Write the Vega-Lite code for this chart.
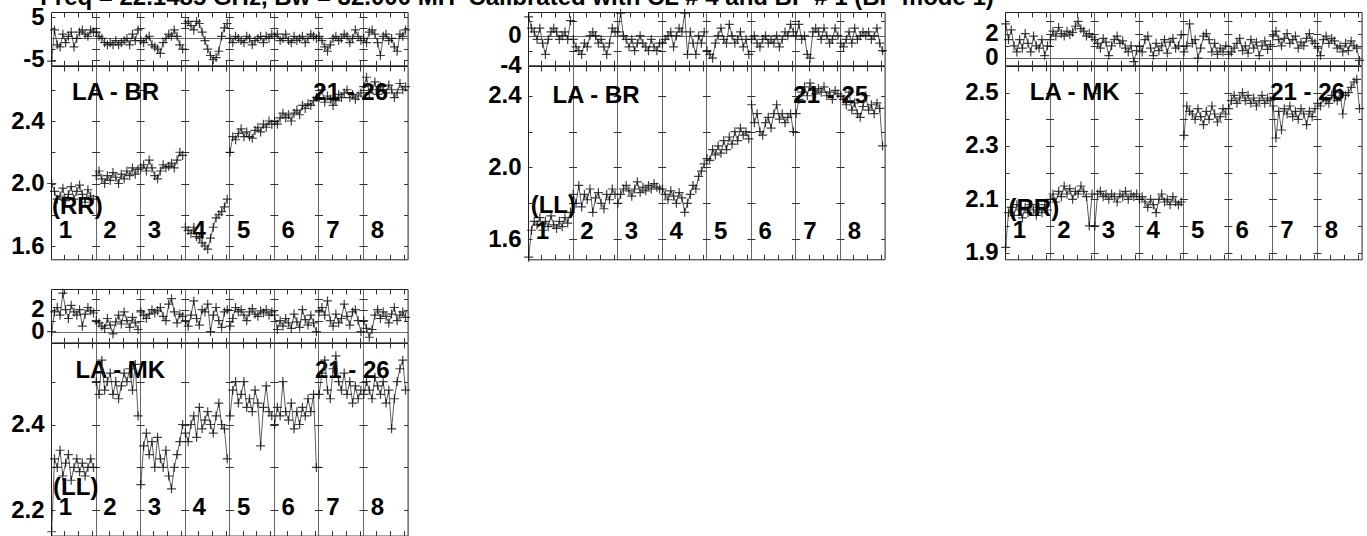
{
"$schema": "https://vega.github.io/schema/vega-lite/v6.json",
"background": "white",
"padding": {"left": 10, "top": -14, "right": 0, "bottom": 0},
"title": {"text": "Freq = 22.1485 GHz, Bw = 32.000 MH\u00a0\u00a0Calibrated with CL # 4 and BP # 1 (BP mode 1)", "anchor": "start", "font": "Liberation Sans", "fontSize": 24, "fontWeight": "bold", "color": "#000", "baseline": "alphabetic", "offset": -24.5, "dx": 30},
"config": {
  "view": {"stroke": "#222", "strokeWidth": 1},
  "axis": {"labelFont": "Liberation Sans", "labelFontSize": 24, "labelFontWeight": "bold", "labelColor": "#000", "labelPadding": 7, "labelOverlap": false, "labelFlush": false, "gridColor": "#333", "gridOpacity": 1, "gridWidth": 1, "domain": false, "ticks": false},
  "text": {"font": "Liberation Sans", "fontSize": 24, "fontWeight": "bold", "color": "#000"},
  "line": {"color": "#333", "strokeWidth": 0.8},
  "point": {"shape": "M-1,0H1M0,-1V1", "size": 81, "filled": false, "color": "#000", "strokeWidth": 1.2, "opacity": 0.75}
},
"datasets": {
"p1": [
{"x":1,"f":1,"ph":-5.3,"a":2.0},{"x":3,"f":1,"ph":2.0,"a":1.95},{"x":5,"f":1,"ph":-1.5,"a":1.9},{"x":7,"f":1,"ph":-2.0,"a":1.92},{"x":9,"f":1,"ph":1.0,"a":1.97},{"x":11,"f":1,"ph":-1.0,"a":1.89},{"x":13,"f":1,"ph":0.5,"a":1.93},{"x":15,"f":1,"ph":1.5,"a":1.98},{"x":17,"f":1,"ph":-2.0,"a":1.9},{"x":19,"f":1,"ph":0.0,"a":1.95},{"x":21,"f":1,"ph":1.5,"a":1.99},{"x":23,"f":1,"ph":2.0,"a":1.93},{"x":25,"f":1,"ph":1.0,"a":1.88},{"x":27,"f":1,"ph":0.5,"a":1.96},{"x":29,"f":1,"ph":2.0,"a":1.92},{"x":31,"f":1,"ph":1.5,"a":1.9},
{"x":33,"f":2,"ph":1.5,"a":2.05},{"x":35,"f":2,"ph":0.5,"a":2.08},{"x":37,"f":2,"ph":0.0,"a":2.03},{"x":39,"f":2,"ph":-1.0,"a":2.0},{"x":41,"f":2,"ph":-1.5,"a":2.05},{"x":43,"f":2,"ph":-1.0,"a":2.02},{"x":45,"f":2,"ph":-1.5,"a":2.07},{"x":47,"f":2,"ph":-0.5,"a":2.04},{"x":49,"f":2,"ph":-1.5,"a":2.0},{"x":51,"f":2,"ph":-1.0,"a":2.06},{"x":53,"f":2,"ph":-0.5,"a":2.03},{"x":55,"f":2,"ph":0.0,"a":2.08},{"x":57,"f":2,"ph":-1.5,"a":2.05},{"x":59,"f":2,"ph":1.0,"a":2.1},{"x":61,"f":2,"ph":-0.5,"a":2.06},{"x":63,"f":2,"ph":2.0,"a":2.09},
{"x":65,"f":3,"ph":-0.5,"a":2.1},{"x":67,"f":3,"ph":-1.0,"a":2.12},{"x":69,"f":3,"ph":0.0,"a":2.08},{"x":71,"f":3,"ph":0.5,"a":2.15},{"x":73,"f":3,"ph":-1.5,"a":2.1},{"x":75,"f":3,"ph":-2.0,"a":2.05},{"x":77,"f":3,"ph":-2.5,"a":2.03},{"x":79,"f":3,"ph":-3.5,"a":2.08},{"x":81,"f":3,"ph":-1.0,"a":2.12},{"x":83,"f":3,"ph":0.0,"a":2.1},{"x":85,"f":3,"ph":1.0,"a":2.11},{"x":87,"f":3,"ph":0.5,"a":2.13},{"x":89,"f":3,"ph":2.0,"a":2.1},{"x":91,"f":3,"ph":0.5,"a":2.15},{"x":93,"f":3,"ph":-1.5,"a":2.2},{"x":95,"f":3,"ph":-2.5,"a":2.18},
{"x":97,"f":4,"ph":3.5,"a":1.72},{"x":99,"f":4,"ph":4.0,"a":1.7},{"x":101,"f":4,"ph":3.0,"a":1.68},{"x":103,"f":4,"ph":2.0,"a":1.72},{"x":105,"f":4,"ph":4.0,"a":1.66},{"x":107,"f":4,"ph":3.5,"a":1.65},{"x":109,"f":4,"ph":1.5,"a":1.62},{"x":111,"f":4,"ph":-0.5,"a":1.6},{"x":113,"f":4,"ph":-2.5,"a":1.58},{"x":115,"f":4,"ph":-4.0,"a":1.65},{"x":117,"f":4,"ph":-5.0,"a":1.72},{"x":119,"f":4,"ph":-4.5,"a":1.78},{"x":121,"f":4,"ph":-3.0,"a":1.8},{"x":123,"f":4,"ph":0.5,"a":1.82},{"x":125,"f":4,"ph":2.5,"a":1.85},{"x":127,"f":4,"ph":3.5,"a":1.9},
{"x":129,"f":5,"ph":0.0,"a":2.2},{"x":131,"f":5,"ph":-1.0,"a":2.3},{"x":133,"f":5,"ph":0.5,"a":2.28},{"x":135,"f":5,"ph":0.0,"a":2.32},{"x":137,"f":5,"ph":-0.5,"a":2.35},{"x":139,"f":5,"ph":-1.0,"a":2.3},{"x":141,"f":5,"ph":0.5,"a":2.33},{"x":143,"f":5,"ph":0.0,"a":2.3},{"x":145,"f":5,"ph":-1.5,"a":2.29},{"x":147,"f":5,"ph":-0.5,"a":2.34},{"x":149,"f":5,"ph":0.0,"a":2.36},{"x":151,"f":5,"ph":0.5,"a":2.33},{"x":153,"f":5,"ph":-1.0,"a":2.38},{"x":155,"f":5,"ph":0.5,"a":2.36},{"x":157,"f":5,"ph":0.0,"a":2.4},{"x":159,"f":5,"ph":1.0,"a":2.38},
{"x":161,"f":6,"ph":0.5,"a":2.4},{"x":163,"f":6,"ph":1.0,"a":2.38},{"x":165,"f":6,"ph":-0.5,"a":2.42},{"x":167,"f":6,"ph":0.0,"a":2.45},{"x":169,"f":6,"ph":1.0,"a":2.42},{"x":171,"f":6,"ph":-0.5,"a":2.44},{"x":173,"f":6,"ph":-1.0,"a":2.4},{"x":175,"f":6,"ph":0.5,"a":2.45},{"x":177,"f":6,"ph":-0.5,"a":2.47},{"x":179,"f":6,"ph":0.0,"a":2.44},{"x":181,"f":6,"ph":0.5,"a":2.5},{"x":183,"f":6,"ph":-1.0,"a":2.48},{"x":185,"f":6,"ph":0.0,"a":2.51},{"x":187,"f":6,"ph":1.0,"a":2.5},{"x":189,"f":6,"ph":0.5,"a":2.53},{"x":191,"f":6,"ph":0.0,"a":2.55},
{"x":193,"f":7,"ph":0.5,"a":2.55},{"x":195,"f":7,"ph":-0.5,"a":2.6},{"x":197,"f":7,"ph":-2.0,"a":2.52},{"x":199,"f":7,"ph":-3.0,"a":2.56},{"x":201,"f":7,"ph":-1.5,"a":2.54},{"x":203,"f":7,"ph":0.0,"a":2.5},{"x":205,"f":7,"ph":0.5,"a":2.53},{"x":207,"f":7,"ph":-0.5,"a":2.57},{"x":209,"f":7,"ph":0.0,"a":2.55},{"x":211,"f":7,"ph":1.0,"a":2.58},{"x":213,"f":7,"ph":0.5,"a":2.6},{"x":215,"f":7,"ph":-1.0,"a":2.55},{"x":217,"f":7,"ph":0.0,"a":2.57},{"x":219,"f":7,"ph":2.0,"a":2.54},{"x":221,"f":7,"ph":0.5,"a":2.56},{"x":223,"f":7,"ph":-0.5,"a":2.58},
{"x":225,"f":8,"ph":0.0,"a":2.62},{"x":227,"f":8,"ph":-1.0,"a":2.68},{"x":229,"f":8,"ph":1.5,"a":2.58},{"x":231,"f":8,"ph":2.0,"a":2.6},{"x":233,"f":8,"ph":1.0,"a":2.65},{"x":235,"f":8,"ph":-1.0,"a":2.57},{"x":237,"f":8,"ph":-4.0,"a":2.62},{"x":239,"f":8,"ph":0.5,"a":2.6},{"x":241,"f":8,"ph":1.0,"a":2.58},{"x":243,"f":8,"ph":-0.5,"a":2.63},{"x":245,"f":8,"ph":0.0,"a":2.6},{"x":247,"f":8,"ph":-2.0,"a":2.55},{"x":249,"f":8,"ph":-3.0,"a":2.58},{"x":251,"f":8,"ph":1.0,"a":2.64},{"x":253,"f":8,"ph":0.5,"a":2.6},{"x":255,"f":8,"ph":2.0,"a":2.62}
],
"p2": [
{"x":1,"f":1,"ph":2.5,"a":1.5},{"x":3,"f":1,"ph":1.0,"a":1.65},{"x":5,"f":1,"ph":0.5,"a":1.7},{"x":7,"f":1,"ph":-0.5,"a":1.68},{"x":9,"f":1,"ph":1.0,"a":1.72},{"x":11,"f":1,"ph":-1.0,"a":1.65},{"x":13,"f":1,"ph":-2.5,"a":1.7},{"x":15,"f":1,"ph":-0.5,"a":1.67},{"x":17,"f":1,"ph":0.5,"a":1.73},{"x":19,"f":1,"ph":1.0,"a":1.68},{"x":21,"f":1,"ph":0.5,"a":1.66},{"x":23,"f":1,"ph":-0.5,"a":1.7},{"x":25,"f":1,"ph":0.0,"a":1.67},{"x":27,"f":1,"ph":0.5,"a":1.72},{"x":29,"f":1,"ph":-0.5,"a":1.69},{"x":31,"f":1,"ph":2.0,"a":1.75},
{"x":33,"f":2,"ph":-0.5,"a":1.85},{"x":35,"f":2,"ph":-1.5,"a":1.8},{"x":37,"f":2,"ph":-2.0,"a":1.9},{"x":39,"f":2,"ph":-2.5,"a":1.78},{"x":41,"f":2,"ph":-1.0,"a":1.85},{"x":43,"f":2,"ph":-1.5,"a":1.82},{"x":45,"f":2,"ph":0.0,"a":1.88},{"x":47,"f":2,"ph":0.5,"a":1.75},{"x":49,"f":2,"ph":0.0,"a":1.83},{"x":51,"f":2,"ph":-1.0,"a":1.86},{"x":53,"f":2,"ph":-0.5,"a":1.8},{"x":55,"f":2,"ph":-1.5,"a":1.77},{"x":57,"f":2,"ph":-2.5,"a":1.85},{"x":59,"f":2,"ph":-1.0,"a":1.82},{"x":61,"f":2,"ph":1.0,"a":1.88},{"x":63,"f":2,"ph":0.5,"a":1.85},
{"x":65,"f":3,"ph":0.5,"a":1.8},{"x":67,"f":3,"ph":3.0,"a":1.85},{"x":69,"f":3,"ph":0.0,"a":1.88},{"x":71,"f":3,"ph":-0.5,"a":1.9},{"x":73,"f":3,"ph":-1.5,"a":1.87},{"x":75,"f":3,"ph":-0.5,"a":1.84},{"x":77,"f":3,"ph":-2.0,"a":1.88},{"x":79,"f":3,"ph":-1.0,"a":1.92},{"x":81,"f":3,"ph":0.0,"a":1.86},{"x":83,"f":3,"ph":-1.0,"a":1.89},{"x":85,"f":3,"ph":-1.5,"a":1.87},{"x":87,"f":3,"ph":-2.0,"a":1.9},{"x":89,"f":3,"ph":-0.5,"a":1.88},{"x":91,"f":3,"ph":-1.5,"a":1.91},{"x":93,"f":3,"ph":-2.0,"a":1.89},{"x":95,"f":3,"ph":-1.0,"a":1.88},
{"x":97,"f":4,"ph":-1.0,"a":1.88},{"x":99,"f":4,"ph":-0.5,"a":1.85},{"x":101,"f":4,"ph":0.0,"a":1.82},{"x":103,"f":4,"ph":0.5,"a":1.87},{"x":105,"f":4,"ph":-1.5,"a":1.84},{"x":107,"f":4,"ph":0.0,"a":1.8},{"x":109,"f":4,"ph":1.0,"a":1.86},{"x":111,"f":4,"ph":0.5,"a":1.83},{"x":113,"f":4,"ph":3.0,"a":1.75},{"x":115,"f":4,"ph":-2.5,"a":1.8},{"x":117,"f":4,"ph":0.5,"a":1.85},{"x":119,"f":4,"ph":-1.0,"a":1.9},{"x":121,"f":4,"ph":-2.5,"a":1.88},{"x":123,"f":4,"ph":0.0,"a":1.95},{"x":125,"f":4,"ph":-1.0,"a":1.98},{"x":127,"f":4,"ph":0.5,"a":2.02},
{"x":129,"f":5,"ph":-2.0,"a":2.05},{"x":131,"f":5,"ph":-2.5,"a":2.04},{"x":133,"f":5,"ph":-3.0,"a":2.1},{"x":135,"f":5,"ph":-1.0,"a":2.07},{"x":137,"f":5,"ph":0.0,"a":2.12},{"x":139,"f":5,"ph":1.0,"a":2.08},{"x":141,"f":5,"ph":-0.5,"a":2.15},{"x":143,"f":5,"ph":-1.0,"a":2.1},{"x":145,"f":5,"ph":1.5,"a":2.17},{"x":147,"f":5,"ph":0.0,"a":2.13},{"x":149,"f":5,"ph":-1.0,"a":2.2},{"x":151,"f":5,"ph":-0.5,"a":2.15},{"x":153,"f":5,"ph":0.5,"a":2.22},{"x":155,"f":5,"ph":-1.5,"a":2.18},{"x":157,"f":5,"ph":-0.5,"a":2.2},{"x":159,"f":5,"ph":-2.5,"a":2.16},
{"x":161,"f":6,"ph":-0.5,"a":2.35},{"x":163,"f":6,"ph":0.0,"a":2.25},{"x":165,"f":6,"ph":-1.0,"a":2.3},{"x":167,"f":6,"ph":-1.5,"a":2.2},{"x":169,"f":6,"ph":-0.5,"a":2.18},{"x":171,"f":6,"ph":0.0,"a":2.25},{"x":173,"f":6,"ph":-1.0,"a":2.28},{"x":175,"f":6,"ph":-0.5,"a":2.22},{"x":177,"f":6,"ph":-1.0,"a":2.3},{"x":179,"f":6,"ph":0.0,"a":2.35},{"x":181,"f":6,"ph":-1.5,"a":2.27},{"x":183,"f":6,"ph":-0.5,"a":2.3},{"x":185,"f":6,"ph":0.5,"a":2.25},{"x":187,"f":6,"ph":0.0,"a":2.28},{"x":189,"f":6,"ph":1.5,"a":2.3},{"x":191,"f":6,"ph":0.5,"a":2.2},
{"x":193,"f":7,"ph":0.0,"a":2.3},{"x":195,"f":7,"ph":1.5,"a":2.38},{"x":197,"f":7,"ph":-0.5,"a":2.42},{"x":199,"f":7,"ph":0.0,"a":2.45},{"x":201,"f":7,"ph":-2.5,"a":2.4},{"x":203,"f":7,"ph":-3.0,"a":2.47},{"x":205,"f":7,"ph":0.5,"a":2.43},{"x":207,"f":7,"ph":1.0,"a":2.41},{"x":209,"f":7,"ph":0.5,"a":2.44},{"x":211,"f":7,"ph":-0.5,"a":2.42},{"x":213,"f":7,"ph":1.0,"a":2.45},{"x":215,"f":7,"ph":0.0,"a":2.4},{"x":217,"f":7,"ph":-1.0,"a":2.42},{"x":219,"f":7,"ph":-0.5,"a":2.38},{"x":221,"f":7,"ph":1.0,"a":2.43},{"x":223,"f":7,"ph":0.0,"a":2.41},
{"x":225,"f":8,"ph":-1.0,"a":2.4},{"x":227,"f":8,"ph":-1.5,"a":2.38},{"x":229,"f":8,"ph":-0.5,"a":2.35},{"x":231,"f":8,"ph":0.5,"a":2.42},{"x":233,"f":8,"ph":-1.0,"a":2.32},{"x":235,"f":8,"ph":1.0,"a":2.36},{"x":237,"f":8,"ph":-0.5,"a":2.3},{"x":239,"f":8,"ph":0.0,"a":2.28},{"x":241,"f":8,"ph":0.5,"a":2.34},{"x":243,"f":8,"ph":0.0,"a":2.4},{"x":245,"f":8,"ph":0.5,"a":2.32},{"x":247,"f":8,"ph":-0.5,"a":2.35},{"x":249,"f":8,"ph":0.0,"a":2.3},{"x":251,"f":8,"ph":1.0,"a":2.36},{"x":253,"f":8,"ph":-1.0,"a":2.33},{"x":255,"f":8,"ph":-2.0,"a":2.12}
],
"p3": [
{"x":1,"f":1,"ph":2.8,"a":1.92},{"x":3,"f":1,"ph":1.5,"a":2.05},{"x":5,"f":1,"ph":2.3,"a":2.07},{"x":7,"f":1,"ph":1.0,"a":2.04},{"x":9,"f":1,"ph":0.5,"a":2.08},{"x":11,"f":1,"ph":1.5,"a":2.06},{"x":13,"f":1,"ph":0.8,"a":2.03},{"x":15,"f":1,"ph":2.0,"a":2.07},{"x":17,"f":1,"ph":1.2,"a":2.05},{"x":19,"f":1,"ph":0.5,"a":2.08},{"x":21,"f":1,"ph":1.8,"a":2.06},{"x":23,"f":1,"ph":1.0,"a":2.04},{"x":25,"f":1,"ph":0.8,"a":2.07},{"x":27,"f":1,"ph":1.5,"a":2.05},{"x":29,"f":1,"ph":0.2,"a":2.08},{"x":31,"f":1,"ph":1.0,"a":2.06},
{"x":33,"f":2,"ph":1.5,"a":2.1},{"x":35,"f":2,"ph":2.2,"a":2.12},{"x":37,"f":2,"ph":1.8,"a":2.09},{"x":39,"f":2,"ph":2.5,"a":2.13},{"x":41,"f":2,"ph":2.0,"a":2.11},{"x":43,"f":2,"ph":1.8,"a":2.15},{"x":45,"f":2,"ph":2.2,"a":2.12},{"x":47,"f":2,"ph":1.9,"a":2.14},{"x":49,"f":2,"ph":2.1,"a":2.1},{"x":51,"f":2,"ph":2.6,"a":2.13},{"x":53,"f":2,"ph":3.0,"a":2.12},{"x":55,"f":2,"ph":2.4,"a":2.15},{"x":57,"f":2,"ph":2.2,"a":2.13},{"x":59,"f":2,"ph":1.8,"a":2.11},{"x":61,"f":2,"ph":2.0,"a":2.0},{"x":63,"f":2,"ph":1.7,"a":2.12},
{"x":65,"f":3,"ph":1.5,"a":2.0},{"x":67,"f":3,"ph":1.2,"a":2.12},{"x":69,"f":3,"ph":0.8,"a":2.13},{"x":71,"f":3,"ph":1.6,"a":2.11},{"x":73,"f":3,"ph":1.3,"a":2.12},{"x":75,"f":3,"ph":0.2,"a":2.1},{"x":77,"f":3,"ph":1.0,"a":2.12},{"x":79,"f":3,"ph":1.5,"a":2.11},{"x":81,"f":3,"ph":1.8,"a":2.09},{"x":83,"f":3,"ph":1.2,"a":2.12},{"x":85,"f":3,"ph":1.4,"a":2.11},{"x":87,"f":3,"ph":0.8,"a":2.13},{"x":89,"f":3,"ph":0.5,"a":2.1},{"x":91,"f":3,"ph":1.0,"a":2.12},{"x":93,"f":3,"ph":-0.3,"a":2.11},{"x":95,"f":3,"ph":0.6,"a":2.12},
{"x":97,"f":4,"ph":1.0,"a":2.1},{"x":99,"f":4,"ph":0.5,"a":2.11},{"x":101,"f":4,"ph":1.5,"a":2.09},{"x":103,"f":4,"ph":1.8,"a":2.07},{"x":105,"f":4,"ph":0.8,"a":2.1},{"x":107,"f":4,"ph":0.2,"a":2.08},{"x":109,"f":4,"ph":1.2,"a":2.05},{"x":111,"f":4,"ph":0.6,"a":2.1},{"x":113,"f":4,"ph":1.0,"a":2.12},{"x":115,"f":4,"ph":1.5,"a":2.09},{"x":117,"f":4,"ph":0.4,"a":2.1},{"x":119,"f":4,"ph":1.3,"a":2.08},{"x":121,"f":4,"ph":1.6,"a":2.11},{"x":123,"f":4,"ph":0.8,"a":2.09},{"x":125,"f":4,"ph":1.0,"a":2.08},{"x":127,"f":4,"ph":1.9,"a":2.09},
{"x":129,"f":5,"ph":0.5,"a":2.34},{"x":131,"f":5,"ph":1.0,"a":2.45},{"x":133,"f":5,"ph":2.8,"a":2.43},{"x":135,"f":5,"ph":1.2,"a":2.42},{"x":137,"f":5,"ph":1.5,"a":2.4},{"x":139,"f":5,"ph":0.0,"a":2.44},{"x":141,"f":5,"ph":0.8,"a":2.41},{"x":143,"f":5,"ph":1.8,"a":2.38},{"x":145,"f":5,"ph":2.0,"a":2.43},{"x":147,"f":5,"ph":1.5,"a":2.4},{"x":149,"f":5,"ph":0.5,"a":2.45},{"x":151,"f":5,"ph":1.2,"a":2.42},{"x":153,"f":5,"ph":0.3,"a":2.39},{"x":155,"f":5,"ph":0.8,"a":2.41},{"x":157,"f":5,"ph":0.5,"a":2.44},{"x":159,"f":5,"ph":1.0,"a":2.42},
{"x":161,"f":6,"ph":0.3,"a":2.44},{"x":163,"f":6,"ph":0.5,"a":2.47},{"x":165,"f":6,"ph":0.8,"a":2.49},{"x":167,"f":6,"ph":1.2,"a":2.46},{"x":169,"f":6,"ph":1.6,"a":2.48},{"x":171,"f":6,"ph":0.6,"a":2.5},{"x":173,"f":6,"ph":1.0,"a":2.47},{"x":175,"f":6,"ph":0.4,"a":2.49},{"x":177,"f":6,"ph":1.5,"a":2.46},{"x":179,"f":6,"ph":0.8,"a":2.48},{"x":181,"f":6,"ph":1.3,"a":2.45},{"x":183,"f":6,"ph":0.2,"a":2.47},{"x":185,"f":6,"ph":1.0,"a":2.49},{"x":187,"f":6,"ph":1.4,"a":2.46},{"x":189,"f":6,"ph":0.7,"a":2.48},{"x":191,"f":6,"ph":1.1,"a":2.47},
{"x":193,"f":7,"ph":1.8,"a":2.45},{"x":195,"f":7,"ph":2.2,"a":2.33},{"x":197,"f":7,"ph":1.5,"a":2.43},{"x":199,"f":7,"ph":1.0,"a":2.36},{"x":201,"f":7,"ph":1.6,"a":2.44},{"x":203,"f":7,"ph":2.0,"a":2.42},{"x":205,"f":7,"ph":1.2,"a":2.45},{"x":207,"f":7,"ph":1.5,"a":2.41},{"x":209,"f":7,"ph":1.8,"a":2.43},{"x":211,"f":7,"ph":0.8,"a":2.4},{"x":213,"f":7,"ph":1.3,"a":2.44},{"x":215,"f":7,"ph":1.0,"a":2.42},{"x":217,"f":7,"ph":1.6,"a":2.38},{"x":219,"f":7,"ph":2.0,"a":2.43},{"x":221,"f":7,"ph":1.4,"a":2.41},{"x":223,"f":7,"ph":1.2,"a":2.44},
{"x":225,"f":8,"ph":0.8,"a":2.46},{"x":227,"f":8,"ph":0.2,"a":2.45},{"x":229,"f":8,"ph":1.5,"a":2.48},{"x":231,"f":8,"ph":1.8,"a":2.47},{"x":233,"f":8,"ph":1.2,"a":2.46},{"x":235,"f":8,"ph":1.6,"a":2.49},{"x":237,"f":8,"ph":1.4,"a":2.48},{"x":239,"f":8,"ph":0.8,"a":2.47},{"x":241,"f":8,"ph":1.0,"a":2.5},{"x":243,"f":8,"ph":0.5,"a":2.42},{"x":245,"f":8,"ph":1.2,"a":2.49},{"x":247,"f":8,"ph":0.6,"a":2.5},{"x":249,"f":8,"ph":1.4,"a":2.52},{"x":251,"f":8,"ph":1.0,"a":2.54},{"x":253,"f":8,"ph":0.8,"a":2.55},{"x":255,"f":8,"ph":-0.2,"a":2.44}
],
"p4": [
{"x":1,"f":1,"ph":0.0,"a":2.15},{"x":3,"f":1,"ph":1.8,"a":2.32},{"x":5,"f":1,"ph":2.2,"a":2.3},{"x":7,"f":1,"ph":1.5,"a":2.34},{"x":9,"f":1,"ph":3.5,"a":2.28},{"x":11,"f":1,"ph":2.0,"a":2.31},{"x":13,"f":1,"ph":1.2,"a":2.33},{"x":15,"f":1,"ph":2.4,"a":2.27},{"x":17,"f":1,"ph":1.8,"a":2.3},{"x":19,"f":1,"ph":1.5,"a":2.32},{"x":21,"f":1,"ph":2.0,"a":2.29},{"x":23,"f":1,"ph":0.5,"a":2.31},{"x":25,"f":1,"ph":1.6,"a":2.28},{"x":27,"f":1,"ph":2.2,"a":2.3},{"x":29,"f":1,"ph":1.9,"a":2.32},{"x":31,"f":1,"ph":1.7,"a":2.3},
{"x":33,"f":2,"ph":1.0,"a":2.5},{"x":35,"f":2,"ph":0.8,"a":2.47},{"x":37,"f":2,"ph":0.5,"a":2.55},{"x":39,"f":2,"ph":0.3,"a":2.48},{"x":41,"f":2,"ph":1.2,"a":2.5},{"x":43,"f":2,"ph":0.6,"a":2.52},{"x":45,"f":2,"ph":-0.2,"a":2.47},{"x":47,"f":2,"ph":0.9,"a":2.5},{"x":49,"f":2,"ph":1.5,"a":2.46},{"x":51,"f":2,"ph":0.7,"a":2.49},{"x":53,"f":2,"ph":1.8,"a":2.52},{"x":55,"f":2,"ph":1.0,"a":2.5},{"x":57,"f":2,"ph":0.4,"a":2.53},{"x":59,"f":2,"ph":1.3,"a":2.48},{"x":61,"f":2,"ph":0.8,"a":2.54},{"x":63,"f":2,"ph":0.2,"a":2.42},
{"x":65,"f":3,"ph":1.8,"a":2.26},{"x":67,"f":3,"ph":1.5,"a":2.35},{"x":69,"f":3,"ph":1.2,"a":2.38},{"x":71,"f":3,"ph":1.6,"a":2.33},{"x":73,"f":3,"ph":2.0,"a":2.36},{"x":75,"f":3,"ph":1.7,"a":2.3},{"x":77,"f":3,"ph":1.9,"a":2.37},{"x":79,"f":3,"ph":2.2,"a":2.32},{"x":81,"f":3,"ph":1.4,"a":2.3},{"x":83,"f":3,"ph":1.0,"a":2.34},{"x":85,"f":3,"ph":2.5,"a":2.28},{"x":87,"f":3,"ph":3.0,"a":2.25},{"x":89,"f":3,"ph":1.8,"a":2.3},{"x":91,"f":3,"ph":0.8,"a":2.33},{"x":93,"f":3,"ph":1.6,"a":2.36},{"x":95,"f":3,"ph":1.4,"a":2.4},
{"x":97,"f":4,"ph":1.0,"a":2.38},{"x":99,"f":4,"ph":0.5,"a":2.36},{"x":101,"f":4,"ph":1.5,"a":2.4},{"x":103,"f":4,"ph":2.8,"a":2.42},{"x":105,"f":4,"ph":1.2,"a":2.37},{"x":107,"f":4,"ph":0.6,"a":2.44},{"x":109,"f":4,"ph":2.0,"a":2.39},{"x":111,"f":4,"ph":1.8,"a":2.41},{"x":113,"f":4,"ph":2.5,"a":2.43},{"x":115,"f":4,"ph":0.0,"a":2.4},{"x":117,"f":4,"ph":1.5,"a":2.38},{"x":119,"f":4,"ph":2.2,"a":2.42},{"x":121,"f":4,"ph":1.0,"a":2.45},{"x":123,"f":4,"ph":0.4,"a":2.4},{"x":125,"f":4,"ph":1.8,"a":2.39},{"x":127,"f":4,"ph":2.0,"a":2.32},
{"x":129,"f":5,"ph":0.5,"a":2.42},{"x":131,"f":5,"ph":1.2,"a":2.48},{"x":133,"f":5,"ph":2.2,"a":2.5},{"x":135,"f":5,"ph":1.8,"a":2.45},{"x":137,"f":5,"ph":2.0,"a":2.47},{"x":139,"f":5,"ph":1.5,"a":2.5},{"x":141,"f":5,"ph":1.0,"a":2.44},{"x":143,"f":5,"ph":1.8,"a":2.46},{"x":145,"f":5,"ph":2.1,"a":2.43},{"x":147,"f":5,"ph":1.6,"a":2.48},{"x":149,"f":5,"ph":1.4,"a":2.45},{"x":151,"f":5,"ph":1.9,"a":2.35},{"x":153,"f":5,"ph":1.7,"a":2.44},{"x":155,"f":5,"ph":2.0,"a":2.49},{"x":157,"f":5,"ph":1.5,"a":2.43},{"x":159,"f":5,"ph":1.8,"a":2.42},
{"x":161,"f":6,"ph":1.5,"a":2.4},{"x":163,"f":6,"ph":0.2,"a":2.44},{"x":165,"f":6,"ph":1.0,"a":2.42},{"x":167,"f":6,"ph":0.5,"a":2.5},{"x":169,"f":6,"ph":1.2,"a":2.43},{"x":171,"f":6,"ph":0.8,"a":2.41},{"x":173,"f":6,"ph":0.3,"a":2.45},{"x":175,"f":6,"ph":1.6,"a":2.39},{"x":177,"f":6,"ph":0.9,"a":2.43},{"x":179,"f":6,"ph":0.4,"a":2.4},{"x":181,"f":6,"ph":2.0,"a":2.44},{"x":183,"f":6,"ph":1.1,"a":2.42},{"x":185,"f":6,"ph":0.6,"a":2.46},{"x":187,"f":6,"ph":1.5,"a":2.43},{"x":189,"f":6,"ph":0.8,"a":2.47},{"x":191,"f":6,"ph":0.0,"a":2.3},
{"x":193,"f":7,"ph":1.8,"a":2.47},{"x":195,"f":7,"ph":2.2,"a":2.52},{"x":197,"f":7,"ph":1.5,"a":2.55},{"x":199,"f":7,"ph":2.8,"a":2.48},{"x":201,"f":7,"ph":1.0,"a":2.46},{"x":203,"f":7,"ph":0.5,"a":2.53},{"x":205,"f":7,"ph":1.6,"a":2.56},{"x":207,"f":7,"ph":0.8,"a":2.5},{"x":209,"f":7,"ph":1.2,"a":2.48},{"x":211,"f":7,"ph":2.5,"a":2.52},{"x":213,"f":7,"ph":1.4,"a":2.47},{"x":215,"f":7,"ph":0.6,"a":2.5},{"x":217,"f":7,"ph":1.8,"a":2.45},{"x":219,"f":7,"ph":2.0,"a":2.49},{"x":221,"f":7,"ph":1.0,"a":2.46},{"x":223,"f":7,"ph":0.0,"a":2.48},
{"x":225,"f":8,"ph":1.0,"a":2.47},{"x":227,"f":8,"ph":0.3,"a":2.5},{"x":229,"f":8,"ph":-0.5,"a":2.48},{"x":231,"f":8,"ph":0.2,"a":2.46},{"x":233,"f":8,"ph":1.5,"a":2.51},{"x":235,"f":8,"ph":2.0,"a":2.49},{"x":237,"f":8,"ph":1.2,"a":2.47},{"x":239,"f":8,"ph":1.8,"a":2.5},{"x":241,"f":8,"ph":1.4,"a":2.45},{"x":243,"f":8,"ph":0.8,"a":2.48},{"x":245,"f":8,"ph":1.6,"a":2.39},{"x":247,"f":8,"ph":2.2,"a":2.46},{"x":249,"f":8,"ph":1.0,"a":2.5},{"x":251,"f":8,"ph":1.5,"a":2.53},{"x":253,"f":8,"ph":1.8,"a":2.55},{"x":255,"f":8,"ph":1.3,"a":2.48}
]
},
"bounds": "flush",
"columns": 3,
"spacing": {"row": 0, "column": 120},
"concat": [
  {"width": 356.6, "height": 53.3, "data": {"name": "p1"},
   "encoding": {
    "x": {"field": "x", "type": "quantitative", "scale": {"domain": [0.5, 256.5], "nice": false, "zero": false}, "axis": {"values": [10,20,30,32.5,42,52,62,64.5,74,84,94,96.5,106,116,126,128.5,138,148,158,160.5,170,180,190,192.5,202,212,222,224.5,234,244,254], "labels": false, "grid": true, "gridDash": {"condition": {"test": "datum.value % 32 == 0.5", "value": [1,0]}, "value": [5,43.3]}, "title": null}},
    "y": {"field": "ph", "type": "quantitative", "scale": {"domain": [-6.3, 6.2], "nice": false, "zero": false}, "axis": {"values": [-5,-2.5,0,2.5,5], "grid": true, "gridDash": {"condition": {"test": "datum.value == 0", "value": [1,0]}, "value": [8,36.575]}, "gridDashOffset": 4, "labelExpr": "datum.value == 5 ? '5' : datum.value == -5 ? '-5' : ''", "title": null}}
   },
   "layer": [
    {"mark": {"type": "line"}, "encoding": {"detail": {"field": "f"}}},
    {"mark": {"type": "point"}}
   ]},
  {"width": 356.6, "height": 53.3, "data": {"name": "p2"},
   "encoding": {
    "x": {"field": "x", "type": "quantitative", "scale": {"domain": [0.5, 256.5], "nice": false, "zero": false}, "axis": {"values": [10,20,30,32.5,42,52,62,64.5,74,84,94,96.5,106,116,126,128.5,138,148,158,160.5,170,180,190,192.5,202,212,222,224.5,234,244,254], "labels": false, "grid": true, "gridDash": {"condition": {"test": "datum.value % 32 == 0.5", "value": [1,0]}, "value": [5,43.3]}, "title": null}},
    "y": {"field": "ph", "type": "quantitative", "scale": {"domain": [-3.95, 3.16], "nice": false, "zero": false}, "axis": {"values": [-4,-2,0,2], "grid": true, "gridDash": {"condition": {"test": "datum.value == 0", "value": [1,0]}, "value": [8,36.575]}, "gridDashOffset": 4, "labelExpr": "datum.value == 0 ? '0' : datum.value == -4 ? '-4' : ''", "title": null}}
   },
   "layer": [
    {"mark": {"type": "line"}, "encoding": {"detail": {"field": "f"}}},
    {"mark": {"type": "point"}}
   ]},
  {"width": 356.6, "height": 53.3, "data": {"name": "p3"},
   "encoding": {
    "x": {"field": "x", "type": "quantitative", "scale": {"domain": [0.5, 256.5], "nice": false, "zero": false}, "axis": {"values": [10,20,30,32.5,42,52,62,64.5,74,84,94,96.5,106,116,126,128.5,138,148,158,160.5,170,180,190,192.5,202,212,222,224.5,234,244,254], "labels": false, "grid": true, "gridDash": {"condition": {"test": "datum.value % 32 == 0.5", "value": [1,0]}, "value": [5,43.3]}, "title": null}},
    "y": {"field": "ph", "type": "quantitative", "scale": {"domain": [-0.6, 3.77], "nice": false, "zero": false}, "axis": {"values": [0,1,2,3], "grid": true, "gridDash": {"condition": {"test": "datum.value == 0", "value": [1,0]}, "value": [8,36.575]}, "gridDashOffset": 4, "labelExpr": "datum.value == 0 ? '0' : datum.value == 2 ? '2' : ''", "title": null}}
   },
   "layer": [
    {"mark": {"type": "line"}, "encoding": {"detail": {"field": "f"}}},
    {"mark": {"type": "point"}}
   ]},
  {"width": 356.6, "height": 193.3, "data": {"name": "p1"},
   "encoding": {
    "x": {"field": "x", "type": "quantitative", "scale": {"domain": [0.5, 256.5], "nice": false, "zero": false}, "axis": {"values": [10,20,30,32.5,42,52,62,64.5,74,84,94,96.5,106,116,126,128.5,138,148,158,160.5,170,180,190,192.5,202,212,222,224.5,234,244,254], "labels": false, "grid": true, "gridDash": {"condition": {"test": "datum.value % 32 == 0.5", "value": [1,0]}, "value": [5,183.3]}, "title": null}},
    "y": {"field": "a", "type": "quantitative", "scale": {"domain": [1.515, 2.752], "nice": false, "zero": false}, "axis": {"values": [1.6,1.8,2.0,2.2,2.4,2.6], "grid": true, "gridDash": [8,36.575], "gridDashOffset": 4, "labelExpr": "indexof([1.6,2.0,2.4], datum.value) >= 0 ? format(datum.value, '.1f') : ''", "title": null}}
   },
   "layer": [
    {"transform": [{"filter": "datum.x % 32 == 1"}], "mark": {"type": "text", "align": "left", "baseline": "middle", "dx": 7}, "encoding": {"y": {"datum": 1.696}, "text": {"field": "f", "type": "nominal"}}},
    {"transform": [{"filter": "datum.x == 1"}], "mark": {"type": "text", "align": "left", "baseline": "middle"}, "encoding": {"x": {"datum": 15.6}, "y": {"datum": 2.577}, "text": {"value": "LA - BR"}}},
    {"transform": [{"filter": "datum.x == 1"}], "mark": {"type": "text", "align": "left", "baseline": "middle"}, "encoding": {"x": {"datum": 1.2}, "y": {"datum": 1.848}, "text": {"value": "(RR)"}}},
    {"transform": [{"filter": "datum.x == 1"}], "mark": {"type": "text", "align": "left", "baseline": "middle"}, "encoding": {"x": {"datum": 188.8}, "y": {"datum": 2.577}, "text": {"value": "21 - 26"}}},
    {"mark": {"type": "line"}, "encoding": {"detail": {"field": "f"}}},
    {"mark": {"type": "point"}}
   ]},
  {"width": 356.6, "height": 193.3, "data": {"name": "p2"},
   "encoding": {
    "x": {"field": "x", "type": "quantitative", "scale": {"domain": [0.5, 256.5], "nice": false, "zero": false}, "axis": {"values": [10,20,30,32.5,42,52,62,64.5,74,84,94,96.5,106,116,126,128.5,138,148,158,160.5,170,180,190,192.5,202,212,222,224.5,234,244,254], "labels": false, "grid": true, "gridDash": {"condition": {"test": "datum.value % 32 == 0.5", "value": [1,0]}, "value": [5,183.3]}, "title": null}},
    "y": {"field": "a", "type": "quantitative", "scale": {"domain": [1.488, 2.566], "nice": false, "zero": false}, "axis": {"values": [1.6,1.8,2.0,2.2,2.4], "grid": true, "gridDash": [8,36.575], "gridDashOffset": 4, "labelExpr": "indexof([1.6,2.0,2.4], datum.value) >= 0 ? format(datum.value, '.1f') : ''", "title": null}}
   },
   "layer": [
    {"transform": [{"filter": "datum.x % 32 == 1"}], "mark": {"type": "text", "align": "left", "baseline": "middle", "dx": 7}, "encoding": {"y": {"datum": 1.639}, "text": {"field": "f", "type": "nominal"}}},
    {"transform": [{"filter": "datum.x == 1"}], "mark": {"type": "text", "align": "left", "baseline": "middle"}, "encoding": {"x": {"datum": 18}, "y": {"datum": 2.4}, "text": {"value": "LA - BR"}}},
    {"transform": [{"filter": "datum.x == 1"}], "mark": {"type": "text", "align": "left", "baseline": "middle"}, "encoding": {"x": {"datum": 2.4}, "y": {"datum": 1.784}, "text": {"value": "(LL)"}}},
    {"transform": [{"filter": "datum.x == 1"}], "mark": {"type": "text", "align": "left", "baseline": "middle"}, "encoding": {"x": {"datum": 191}, "y": {"datum": 2.4}, "text": {"value": "21 - 25"}}},
    {"mark": {"type": "line"}, "encoding": {"detail": {"field": "f"}}},
    {"mark": {"type": "point"}}
   ]},
  {"width": 356.6, "height": 193.3, "data": {"name": "p3"},
   "encoding": {
    "x": {"field": "x", "type": "quantitative", "scale": {"domain": [0.5, 256.5], "nice": false, "zero": false}, "axis": {"values": [10,20,30,32.5,42,52,62,64.5,74,84,94,96.5,106,116,126,128.5,138,148,158,160.5,170,180,190,192.5,202,212,222,224.5,234,244,254], "labels": false, "grid": true, "gridDash": {"condition": {"test": "datum.value % 32 == 0.5", "value": [1,0]}, "value": [5,183.3]}, "title": null}},
    "y": {"field": "a", "type": "quantitative", "scale": {"domain": [1.875, 2.6], "nice": false, "zero": false}, "axis": {"values": [1.9,2.0,2.1,2.2,2.3,2.4,2.5], "grid": true, "gridDash": [8,36.575], "gridDashOffset": 4, "labelExpr": "indexof([1.9,2.1,2.3,2.5], datum.value) >= 0 ? format(datum.value, '.1f') : ''", "title": null}}
   },
   "layer": [
    {"transform": [{"filter": "datum.x % 32 == 1"}], "mark": {"type": "text", "align": "left", "baseline": "middle", "dx": 7}, "encoding": {"y": {"datum": 1.981}, "text": {"field": "f", "type": "nominal"}}},
    {"transform": [{"filter": "datum.x == 1"}], "mark": {"type": "text", "align": "left", "baseline": "middle"}, "encoding": {"x": {"datum": 18.3}, "y": {"datum": 2.5}, "text": {"value": "LA - MK"}}},
    {"transform": [{"filter": "datum.x == 1"}], "mark": {"type": "text", "align": "left", "baseline": "middle"}, "encoding": {"x": {"datum": 3}, "y": {"datum": 2.063}, "text": {"value": "(RR)"}}},
    {"transform": [{"filter": "datum.x == 1"}], "mark": {"type": "text", "align": "left", "baseline": "middle"}, "encoding": {"x": {"datum": 190.9}, "y": {"datum": 2.5}, "text": {"value": "21 - 26"}}},
    {"mark": {"type": "line"}, "encoding": {"detail": {"field": "f"}}},
    {"mark": {"type": "point"}}
   ]},
  {"width": 1, "height": 28.2, "data": {"values": []}, "mark": "point", "view": {"stroke": null}},
  {"width": 1, "height": 28.2, "data": {"values": []}, "mark": "point", "view": {"stroke": null}},
  {"width": 1, "height": 28.2, "data": {"values": []}, "mark": "point", "view": {"stroke": null}},
  {"width": 356.6, "height": 53.4, "data": {"name": "p4"},
   "encoding": {
    "x": {"field": "x", "type": "quantitative", "scale": {"domain": [0.5, 256.5], "nice": false, "zero": false}, "axis": {"values": [10,20,30,32.5,42,52,62,64.5,74,84,94,96.5,106,116,126,128.5,138,148,158,160.5,170,180,190,192.5,202,212,222,224.5,234,244,254], "labels": false, "grid": true, "gridDash": {"condition": {"test": "datum.value % 32 == 0.5", "value": [1,0]}, "value": [5,43.4]}, "title": null}},
    "y": {"field": "ph", "type": "quantitative", "scale": {"domain": [-0.97, 3.88], "nice": false, "zero": false}, "axis": {"values": [0,1,2,3], "grid": true, "gridDash": {"condition": {"test": "datum.value == 0", "value": [1,0]}, "value": [8,36.575]}, "gridDashOffset": 4, "labelExpr": "datum.value == 0 ? '0' : datum.value == 2 ? '2' : ''", "title": null}}
   },
   "layer": [
    {"mark": {"type": "line"}, "encoding": {"detail": {"field": "f"}}},
    {"mark": {"type": "point"}}
   ]},
  {"width": 1, "height": 1, "data": {"values": []}, "mark": "point", "view": {"stroke": null}},
  {"width": 1, "height": 1, "data": {"values": []}, "mark": "point", "view": {"stroke": null}},
  {"width": 356.6, "height": 192.6, "data": {"name": "p4"},
   "encoding": {
    "x": {"field": "x", "type": "quantitative", "scale": {"domain": [0.5, 256.5], "nice": false, "zero": false}, "axis": {"values": [10,20,30,32.5,42,52,62,64.5,74,84,94,96.5,106,116,126,128.5,138,148,158,160.5,170,180,190,192.5,202,212,222,224.5,234,244,254], "labels": false, "grid": true, "gridDash": {"condition": {"test": "datum.value % 32 == 0.5", "value": [1,0]}, "value": [5,182.6]}, "title": null}},
    "y": {"field": "a", "type": "quantitative", "scale": {"domain": [2.141, 2.59], "nice": false, "zero": false}, "axis": {"values": [2.2,2.3,2.4,2.5], "grid": true, "gridDash": [8,36.575], "gridDashOffset": 4, "labelExpr": "indexof([2.2,2.4], datum.value) >= 0 ? format(datum.value, '.1f') : ''", "title": null}}
   },
   "layer": [
    {"transform": [{"filter": "datum.x % 32 == 1"}], "mark": {"type": "text", "align": "left", "baseline": "middle", "dx": 7}, "encoding": {"y": {"datum": 2.205}, "text": {"field": "f", "type": "nominal"}}},
    {"transform": [{"filter": "datum.x == 1"}], "mark": {"type": "text", "align": "left", "baseline": "middle"}, "encoding": {"x": {"datum": 18}, "y": {"datum": 2.524}, "text": {"value": "LA - MK"}}},
    {"transform": [{"filter": "datum.x == 1"}], "mark": {"type": "text", "align": "left", "baseline": "middle"}, "encoding": {"x": {"datum": 2}, "y": {"datum": 2.252}, "text": {"value": "(LL)"}}},
    {"transform": [{"filter": "datum.x == 1"}], "mark": {"type": "text", "align": "left", "baseline": "middle"}, "encoding": {"x": {"datum": 190}, "y": {"datum": 2.524}, "text": {"value": "21 - 26"}}},
    {"mark": {"type": "line"}, "encoding": {"detail": {"field": "f"}}},
    {"mark": {"type": "point"}}
   ]},
  {"width": 1, "height": 1, "data": {"values": []}, "mark": "point", "view": {"stroke": null}},
  {"width": 1, "height": 1, "data": {"values": []}, "mark": "point", "view": {"stroke": null}}
]
}
